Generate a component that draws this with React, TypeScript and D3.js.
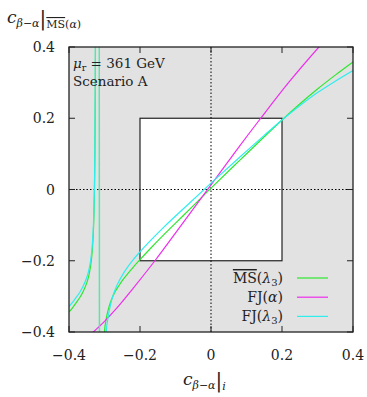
import * as d3 from 'd3'

const ticks = [-0.4, -0.2, 0, 0.2, 0.4]
const tickLabels = ['−0.4', '−0.2', '0', '0.2', '0.4']
const boxRange = [-0.2, 0.2]

// MS-bar(lambda3), green
const msLam3X = [-0.4, -0.39, -0.38, -0.37, -0.36, -0.35, -0.345, -0.34, -0.335, -0.332, -0.33, -0.328, -0.327, -0.326, -0.3255, -0.325, -0.3235,
    -0.305, -0.3, -0.295, -0.29, -0.28, -0.27, -0.26, -0.25, -0.235, -0.22, -0.2, -0.17, -0.13, -0.08, 0, 0.08, 0.15, 0.2, 0.25, 0.3, 0.35, 0.4]
const msLam3Y = [-0.344, -0.332, -0.318, -0.304, -0.286, -0.262, -0.245, -0.22, -0.179, -0.133, -0.08, 0.017, 0.107, 0.268, 0.408, 0.64, 30,
    -30, -0.399, -0.362, -0.339, -0.308, -0.287, -0.271, -0.256, -0.237, -0.219, -0.197, -0.165, -0.124, -0.075, 0.004, 0.081, 0.148, 0.195, 0.24, 0.282, 0.321, 0.358]

// FJ(alpha), magenta
const fjAlphaX = [-0.335, -0.3, -0.27, -0.22, -0.158, -0.08, 0, 0.07, 0.14, 0.22, 0.304, 0.32]
const fjAlphaY = [-0.403, -0.37, -0.338, -0.278, -0.2, -0.095, 0.013, 0.108, 0.2, 0.302, 0.4, 0.418]

// FJ(lambda3), cyan
const fjLam3X = [-0.4, -0.39, -0.38, -0.37, -0.36, -0.35, -0.345, -0.34, -0.335, -0.332, -0.33, -0.328, -0.327, -0.326, -0.3255, -0.325, -0.3235,
    -0.305, -0.298, -0.295, -0.29, -0.28, -0.27, -0.26, -0.25, -0.235, -0.22, -0.2, -0.17, -0.13, -0.08, 0, 0.08, 0.15, 0.2, 0.25, 0.3, 0.35, 0.4]
const fjLam3Y = [-0.329, -0.317, -0.303, -0.289, -0.271, -0.247, -0.23, -0.205, -0.164, -0.118, -0.065, 0.032, 0.122, 0.283, 0.423, 0.655, 30,
    -30, -0.45, -0.398, -0.359, -0.311, -0.281, -0.259, -0.241, -0.218, -0.198, -0.175, -0.143, -0.103, -0.056, 0.018, 0.09, 0.152, 0.195, 0.235, 0.272, 0.304, 0.334]

const series = [
    { xs: msLam3X, ys: msLam3Y, color: '#2ee82e' },
    { xs: fjAlphaX, ys: fjAlphaY, color: '#ee2eee' },
    { xs: fjLam3X, ys: fjLam3Y, color: '#2eeeee' },
]

const left = 69
const right = 353
const top = 47
const bottom = 332
const txt = { fontFamily: "'DejaVu Serif', serif", fill: '#222' }

const App = () => {
    const x = d3.scaleLinear().domain([-0.4, 0.4]).range([left, right])
    const y = d3.scaleLinear().domain([-0.4, 0.4]).range([bottom, top])

    const line = d3
        .line<[number, number]>()
        .x(d => x(d[0]))
        .y(d => y(d[1]))
        .curve(d3.curveMonotoneX)

    const legendRows = [0, 1, 2].map(i => 278 + i * 19.2)

    return (
        <svg width={367} height={397} style={{ position: 'absolute', left: 0, top: 0 }}>
            <defs>
                <clipPath id="plot">
                    <rect x={left} y={top} width={right - left} height={bottom - top} />
                </clipPath>
            </defs>
            <rect x={left} y={top} width={right - left} height={bottom - top} fill="#e2e2e2" />
            <rect
                x={x(boxRange[0])}
                y={y(boxRange[1])}
                width={x(boxRange[1]) - x(boxRange[0])}
                height={y(boxRange[0]) - y(boxRange[1])}
                fill="#fff"
                stroke="#222"
                strokeWidth={1.2}
            />
            <line x1={x(0)} x2={x(0)} y1={top} y2={bottom} stroke="#000" strokeDasharray="1.5,2" />
            <line x1={left} x2={right} y1={y(0)} y2={y(0)} stroke="#000" strokeDasharray="1.5,2" />

            {ticks.map(t => (
                <g key={t} stroke="#222" strokeWidth={1}>
                    <line x1={x(t)} x2={x(t)} y1={bottom} y2={bottom - 6} />
                    <line x1={x(t)} x2={x(t)} y1={top} y2={top + 6} />
                    <line x1={left} x2={left + 6} y1={y(t)} y2={y(t)} />
                    <line x1={right} x2={right - 6} y1={y(t)} y2={y(t)} />
                </g>
            ))}

            <g clipPath="url(#plot)">
                {series.map((s, i) => (
                    <path
                        key={i}
                        d={line(s.xs.map((v, j) => [v, s.ys[j]] as [number, number])) || ''}
                        fill="none"
                        stroke={s.color}
                        strokeWidth={1.2}
                    />
                ))}
            </g>

            <rect x={left} y={top} width={right - left} height={bottom - top} fill="none" stroke="#222" strokeWidth={1.3} />

            {ticks.map((t, i) => (
                <text key={'y' + t} x={55} y={y(t) + 5} textAnchor="end" fontSize={14} style={txt}>
                    {tickLabels[i]}
                </text>
            ))}
            {ticks.map((t, i) => (
                <text key={'x' + t} x={x(t)} y={360} textAnchor="middle" fontSize={14} style={txt}>
                    {tickLabels[i]}
                </text>
            ))}

            {/* y label */}
            <text x={7} y={23} fontSize={17} style={txt}>
                <tspan fontStyle="italic">c</tspan>
                <tspan fontSize={11} dy={4} fontStyle="italic">β</tspan>
                <tspan fontSize={11}>−</tspan>
                <tspan fontSize={11} fontStyle="italic">α</tspan>
                <tspan fontSize={20} dy={-2}>|</tspan>
                <tspan fontSize={11} dy={3} textDecoration="overline">MS</tspan>
                <tspan fontSize={11}>(</tspan>
                <tspan fontSize={11} fontStyle="italic">α</tspan>
                <tspan fontSize={11}>)</tspan>
            </text>

            {/* x label */}
            <text x={183} y={385} fontSize={17} style={txt}>
                <tspan fontStyle="italic">c</tspan>
                <tspan fontSize={11} dy={4} fontStyle="italic">β</tspan>
                <tspan fontSize={11}>−</tspan>
                <tspan fontSize={11} fontStyle="italic">α</tspan>
                <tspan fontSize={20} dy={-2}>|</tspan>
                <tspan fontSize={11} dy={3} fontStyle="italic">i</tspan>
            </text>

            {/* annotation */}
            <text x={73} y={68} fontSize={13.5} style={txt}>
                <tspan fontStyle="italic">μ</tspan>
                <tspan fontSize={9.5} dy={3}>r</tspan>
                <tspan dy={-3}> = 361 GeV</tspan>
            </text>
            <text x={73} y={86} fontSize={13.5} style={txt}>
                Scenario A
            </text>

            {/* legend */}
            <text x={283} y={legendRows[0] + 5} textAnchor="end" fontSize={14} style={txt}>
                <tspan textDecoration="overline">MS</tspan>
                <tspan>(</tspan>
                <tspan fontStyle="italic">λ</tspan>
                <tspan fontSize={10} dy={3}>3</tspan>
                <tspan dy={-3}>)</tspan>
            </text>
            <text x={283} y={legendRows[1] + 5} textAnchor="end" fontSize={14} style={txt}>
                <tspan>FJ(</tspan>
                <tspan fontStyle="italic">α</tspan>
                <tspan>)</tspan>
            </text>
            <text x={283} y={legendRows[2] + 5} textAnchor="end" fontSize={14} style={txt}>
                <tspan>FJ(</tspan>
                <tspan fontStyle="italic">λ</tspan>
                <tspan fontSize={10} dy={3}>3</tspan>
                <tspan dy={-3}>)</tspan>
            </text>
            {series.map((s, i) => (
                <line key={'l' + i} x1={297} x2={328} y1={legendRows[i]} y2={legendRows[i]} stroke={s.color} strokeWidth={1.2} />
            ))}
        </svg>
    )
}

export default App
